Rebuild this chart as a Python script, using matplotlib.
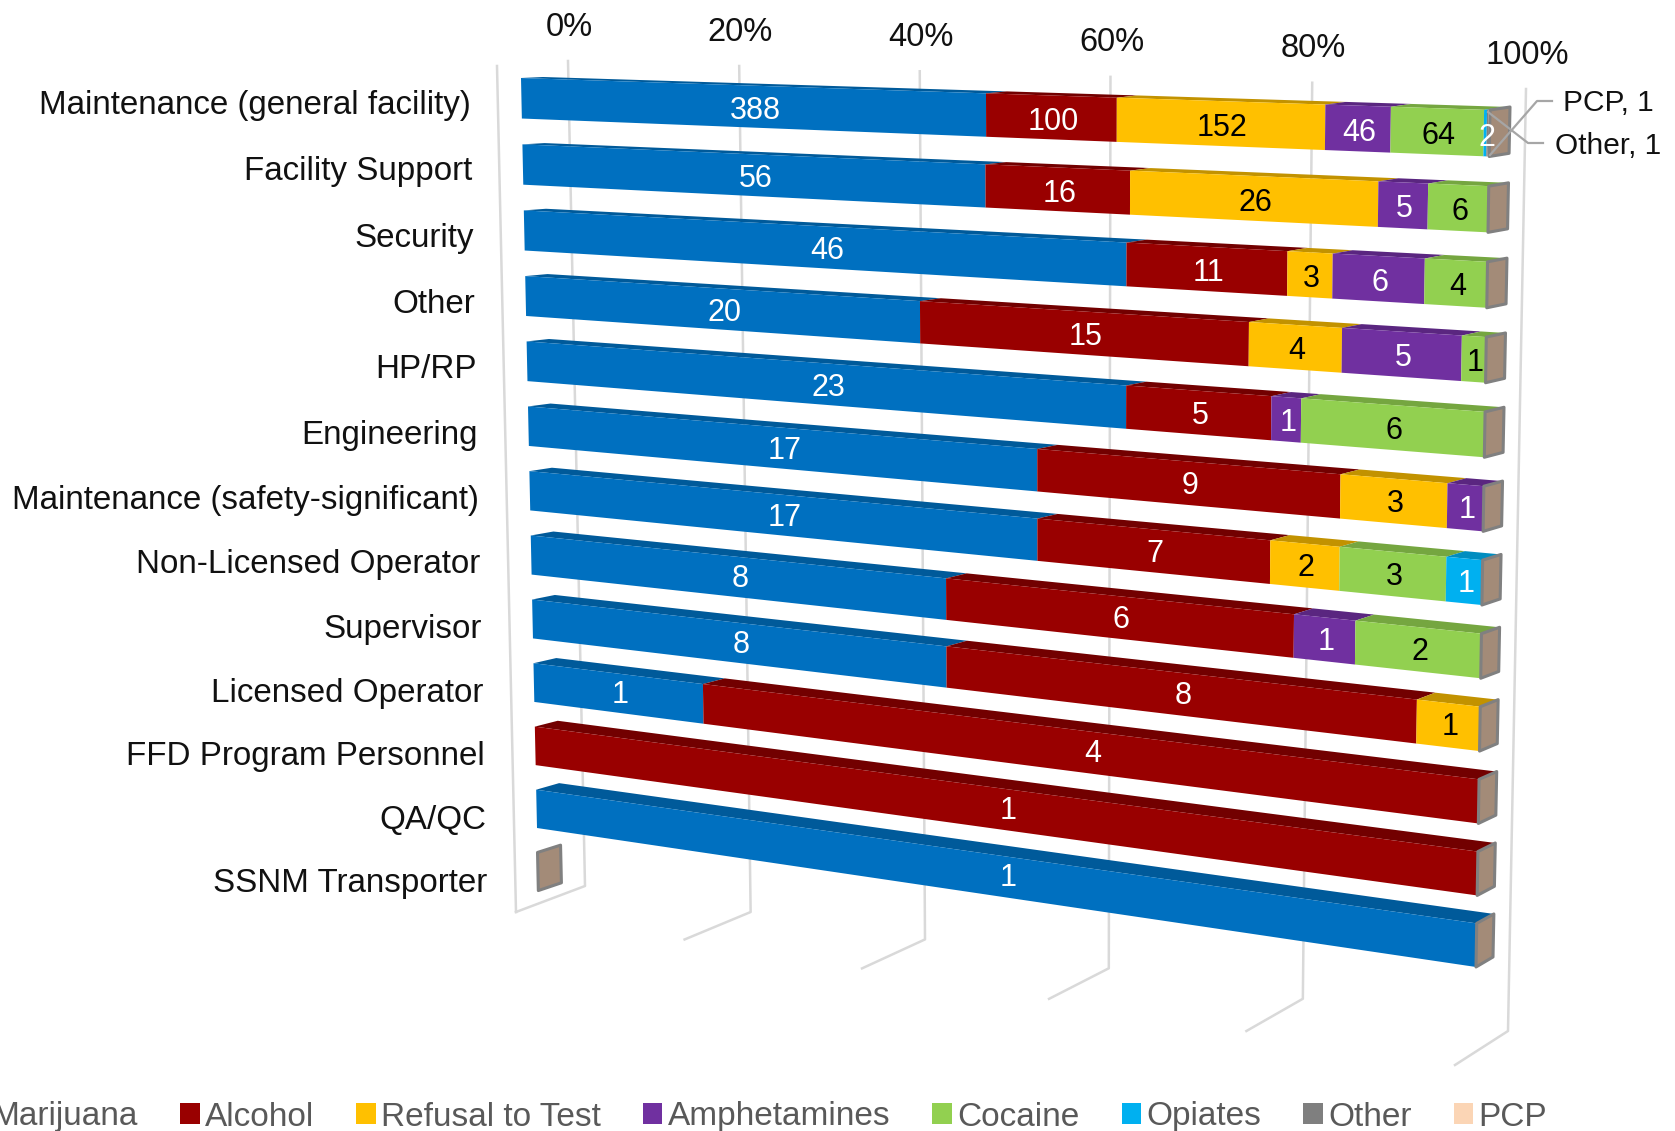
# Fitness-for-duty test results by labor category, drawn as a 3D look stacked 100% bar chart
import numpy as np
import matplotlib
matplotlib.use("Agg")
import matplotlib.pyplot as plt
from matplotlib.patches import Patch
from matplotlib.transforms import Transform

plt.rcParams['font.family'] = ['Liberation Sans', 'DejaVu Sans']

categories = ["Maintenance (general facility)", "Facility Support", "Security", "Other", "HP/RP",
              "Engineering", "Maintenance (safety-significant)", "Non-Licensed Operator", "Supervisor",
              "Licensed Operator", "FFD Program Personnel", "QA/QC", "SSNM Transporter"]

marijuana = [388, 56, 46, 20, 23, 17, 17, 8, 8, 1, 0, 1, 0]
alcohol = [100, 16, 11, 15, 5, 9, 7, 6, 8, 4, 1, 0, 0]
refusal = [152, 26, 3, 4, 0, 3, 2, 0, 1, 0, 0, 0, 0]
amphetamines = [46, 5, 6, 5, 1, 1, 0, 1, 0, 0, 0, 0, 0]
cocaine = [64, 6, 4, 1, 6, 0, 3, 2, 0, 0, 0, 0, 0]
opiates = [2, 0, 0, 0, 0, 0, 1, 0, 0, 0, 0, 0, 0]
other = [1, 0, 0, 0, 0, 0, 0, 0, 0, 0, 0, 0, 0]
pcp = [1, 0, 0, 0, 0, 0, 0, 0, 0, 0, 0, 0, 0]

drugs = ["Marijuana", "Alcohol", "Refusal to Test", "Amphetamines", "Cocaine", "Opiates", "Other", "PCP"]
series = [marijuana, alcohol, refusal, amphetamines, cocaine, opiates, other, pcp]
colors = ["#0070C0", "#990000", "#FFC000", "#7030A0", "#92D050", "#00B0F0", "#7F7F7F", "#FBD5B5"]
tops = ["#005A9A", "#720000", "#C29200", "#5A2680", "#75A640", "#008DC0", "#666666", "#C9AA91"]
text_colors = ["white", "white", "black", "white", "black", "white", "black", "black"]
ticks = [0, 20, 40, 60, 80, 100]


class Perspective(Transform):
    # maps (percent, row) to picture pixels, from the four corners of a plane
    input_dims = 2
    output_dims = 2

    def __init__(self, x0, x1, y0, y1, corners):
        super().__init__()
        src = [(x0, y0), (x1, y0), (x0, y1), (x1, y1)]
        a = []
        b = []
        for (x, y), (u, v) in zip(src, corners):
            a.append([x, y, 1, 0, 0, 0, -u * x, -u * y])
            a.append([0, 0, 0, x, y, 1, -v * x, -v * y])
            b += [u, v]
        self.h = np.append(np.linalg.solve(np.array(a, float), np.array(b, float)), 1).reshape(3, 3)

    def transform_non_affine(self, values):
        values = np.asarray(values, float)
        p = np.column_stack([values, np.ones(len(values))]) @ self.h.T
        return p[:, :2] / p[:, 2:]


bar_h = 0.61
last = 11 + bar_h
front = Perspective(0, 100, 0, last, [(521, 78), (1490, 110), (537, 828), (1476, 967)])
rear = Perspective(0, 100, 0, last, [(543, 77), (1510, 107), (560, 821), (1493, 957)])
wall = Perspective(0, 100, 0, 1, [(568, 61), (1526, 89), (585, 886), (1508, 1031)])
floor_edge = Perspective(0, 100, 0, 1, [(497, 66), (1474, 100), (516, 912), (1455, 1065)])

fig = plt.figure(figsize=(16.75, 11.31), dpi=100)
ax = fig.add_axes([0, 0, 1, 1])

# back wall and floor lines
grid = '#D9D9D9'
for t in ticks:
    a = wall.transform([[t, 0], [t, 1]])
    b = floor_edge.transform([[t, 1]])
    ax.plot([a[0, 0], a[1, 0], b[0, 0]], [a[0, 1], a[1, 1], b[0, 1]], color=grid, lw=1.8, zorder=1)
    ax.text(a[0, 0] + 1, a[0, 1] - 34, f"{t}%", fontsize=23.5, ha='center', va='center', color='#111111')
a = floor_edge.transform([[0, 0], [0, 1]])
ax.plot(a[:, 0], a[:, 1], color=grid, lw=1.8, zorder=1)

# stacked bars, every row is scaled to its own total
values = np.array(series, float)
totals = values.sum(axis=0)
shares = 100 * values / np.where(totals == 0, 1, totals)
rows = np.arange(len(categories))
starts = np.zeros(len(categories))
persp = front + ax.transData
for i, name in enumerate(drugs):
    ax.barh(rows + bar_h / 2, shares[i], left=starts, height=bar_h, color=colors[i], linewidth=0,
            transform=persp, zorder=3)
    for r in rows:
        if values[i, r] == 0:
            continue
        # dark top face of the segment
        pts = [[starts[r], r], [starts[r] + shares[i, r], r]]
        f = front.transform(pts)
        b = rear.transform(pts)
        ax.fill([f[0, 0], f[1, 0], b[1, 0], b[0, 0]], [f[0, 1], f[1, 1], b[1, 1], b[0, 1]],
                color=tops[i], linewidth=0, zorder=2)
        # value label in the middle of the front face
        if i < 6:
            c = front.transform(pts + [[starts[r], r + bar_h], [starts[r] + shares[i, r], r + bar_h]]).mean(axis=0)
            ax.text(c[0] + 1.5, c[1] + 4.5 - 0.3 * r, f"{int(values[i, r])}", color=text_colors[i], fontsize=22,
                    ha='center', va='center', zorder=6)
    starts = starts + shares[i]

# brown end cap of each row
for r in rows:
    pts = [[starts[r], r], [starts[r], r + bar_h]]
    f = front.transform(pts)
    b = rear.transform(pts)
    ax.fill([f[0, 0], b[0, 0], b[1, 0], f[1, 0]], [f[0, 1], b[0, 1], b[1, 1], f[1, 1]],
            facecolor='#A38B78', edgecolor='#808080', linewidth=2.2, joinstyle='round', zorder=4)

# category labels
for r in rows:
    c = front.transform([[0, r + bar_h / 2]])[0]
    ax.text(c[0] - 50.5, c[1] + 7 + 0.4 * r, categories[r], fontsize=23.9, ha='right', va='center', color='#111111')

# leader lines of the two small slices
ax.plot([1552, 1537, 1490], [101, 101, 155], color='#A6A6A6', lw=1.6, zorder=7)
ax.plot([1543, 1528, 1488], [143, 143, 112], color='#A6A6A6', lw=1.6, zorder=7)
ax.text(1563, 103, "PCP, 1", fontsize=21.5, ha='left', va='center', color='#111111')
ax.text(1555, 146, "Other, 1", fontsize=21.5, ha='left', va='center', color='#111111')

handles = [Patch(facecolor=c, edgecolor='none', label=n) for c, n in zip(colors, drugs)]
ax.legend(handles=handles, loc='center left', bbox_to_anchor=(-33, 1117), bbox_transform=ax.transData,
          ncol=8, frameon=False, fontsize=24, labelcolor='#595959', borderpad=0, borderaxespad=0,
          handlelength=0.58, handleheight=0.58, handletextpad=0.16, columnspacing=1.265)

ax.set_xlim(0, 1675)
ax.set_ylim(1131, 0)
ax.axis('off')
plt.savefig("out.png", dpi=100)
